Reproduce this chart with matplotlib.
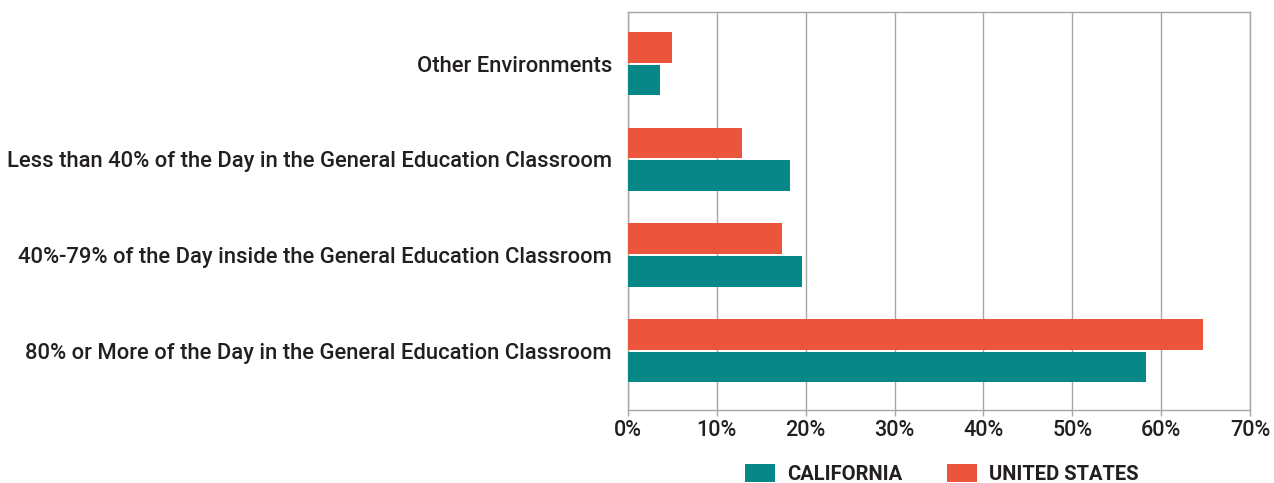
import matplotlib
matplotlib.use("Agg")
import matplotlib.pyplot as plt
from matplotlib.patches import Patch
import numpy as np

categories = [
    "80% or More of the Day in the General Education Classroom",
    "40%-79% of the Day inside the General Education Classroom",
    "Less than 40% of the Day in the General Education Classroom",
    "Other Environments",
]
california = [58.3, 19.6, 18.2, 3.6]
united_states = [64.7, 17.3, 12.8, 5.0]
xticks = [0, 10, 20, 30, 40, 50, 60, 70]
xtick_labels = ["0%", "10%", "20%", "30%", "40%", "50%", "60%", "70%"]
series_names = ["CALIFORNIA", "UNITED STATES"]

teal = "#078787"
red = "#EB553B"
txt = "#231F20"
grid_c = "#A6A6A6"

plt.rcParams["font.family"] = ["Roboto", "DejaVu Sans"]

fig = plt.figure(figsize=(12.74, 4.83), dpi=100)
ax = fig.add_axes([628 / 1274, 1 - 410 / 483, (1250 - 628) / 1274, (410 - 12) / 483])

y = np.arange(len(categories))
h = 0.32
off = 0.172
ax.barh(y - off, california, height=h, color=teal, zorder=3)
ax.barh(y + off, united_states, height=h, color=red, zorder=3)

ax.set_xlim(0, 70)
ax.set_ylim(-0.62, 3.54)
ax.set_xticks(xticks)
ax.set_xticklabels(xtick_labels, fontsize=15.5, color=txt, fontweight="medium")
ax.set_yticks(y)
ax.set_yticklabels(categories, fontsize=15.8, color=txt, fontweight="medium")
ax.tick_params(axis="y", length=0, pad=11.5)
ax.tick_params(axis="x", length=4, width=1, color=grid_c, pad=3)
ax.grid(axis="x", color=grid_c, linewidth=1, zorder=0)
for s in ax.spines.values():
    s.set_color(grid_c)
    s.set_linewidth(1)

handles = [Patch(facecolor=teal), Patch(facecolor=red)]
fig.legend(handles, series_names, loc="center", bbox_to_anchor=(942 / 1274, 1 - 474 / 483),
           ncol=2, frameon=False, handlelength=1.5, handleheight=1.0, handletextpad=0.6,
           columnspacing=2.2, prop={"weight": "bold", "size": 14.5}, labelcolor=txt)

fig.savefig("out.png", dpi=100)
